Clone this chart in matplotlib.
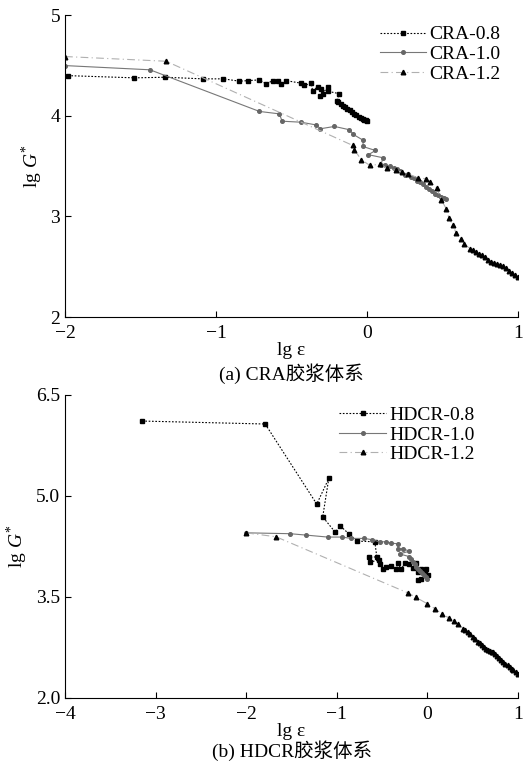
import matplotlib
matplotlib.use('Agg')
import matplotlib.pyplot as plt

plt.rcParams['font.family'] = ['Liberation Serif', 'Noto Sans CJK SC']
plt.rcParams['mathtext.fontset'] = 'custom'
plt.rcParams['mathtext.rm'] = 'Liberation Serif'
plt.rcParams['mathtext.it'] = 'Liberation Serif:italic'

# (a) CRA 胶浆体系
cra08_x = [-1.98, -1.54, -1.335, -1.088, -0.951, -0.845, -0.79, -0.712, -0.668, -0.624, -0.59,
           -0.569, -0.535, -0.436, -0.414, -0.37, -0.359, -0.326, -0.304, -0.293, -0.31, -0.26,
           -0.26, -0.182, -0.20, -0.19, -0.175, -0.16, -0.145, -0.13, -0.115, -0.10, -0.085,
           -0.07, -0.055, -0.04, -0.028, -0.017, -0.008, 0.0]
cra08_y = [4.40, 4.378, 4.384, 4.368, 4.368, 4.345, 4.35, 4.358, 4.318, 4.35, 4.345,
           4.318, 4.35, 4.325, 4.302, 4.325, 4.245, 4.292, 4.269, 4.22, 4.193, 4.285,
           4.245, 4.22, 4.15, 4.14, 4.12, 4.103, 4.085, 4.07, 4.054, 4.037, 4.02,
           4.004, 3.99, 3.978, 3.97, 3.962, 3.956, 3.952]

cra10_x = [-2.0, -1.437, -0.712, -0.58, -0.562, -0.436, -0.337, -0.308, -0.215, -0.116, -0.09,
           -0.023, -0.028, 0.056, 0.01, 0.105, 0.094, 0.12, 0.15, 0.18, 0.20, 0.22, 0.25, 0.27,
           0.29, 0.31, 0.33, 0.35, 0.37, 0.39, 0.41, 0.43, 0.45, 0.47, 0.49, 0.51, 0.525]
cra10_y = [4.50, 4.458, 4.044, 4.02, 3.947, 3.937, 3.91, 3.872, 3.895, 3.862, 3.815,
           3.756, 3.696, 3.656, 3.614, 3.584, 3.515, 3.51, 3.497, 3.48, 3.47, 3.455, 3.41, 3.42,
           3.39, 3.38, 3.355, 3.34, 3.32, 3.29, 3.27, 3.25, 3.225, 3.21, 3.19, 3.18, 3.17]

cra12_x = [-2.0, -1.33, -0.094, -0.083, -0.038, 0.017, 0.088, 0.13, 0.193, 0.23, 0.27, 0.337,
           0.388, 0.419, 0.463, 0.492, 0.525, 0.542, 0.569, 0.591, 0.62, 0.646, 0.68, 0.70,
           0.72, 0.74, 0.76, 0.78, 0.80, 0.82, 0.84, 0.86, 0.88, 0.90, 0.92, 0.94, 0.96,
           0.98, 1.0]
cra12_y = [4.59, 4.543, 3.706, 3.663, 3.564, 3.51, 3.517, 3.48, 3.457, 3.44, 3.425, 3.385,
           3.375, 3.342, 3.282, 3.167, 3.077, 2.988, 2.912, 2.835, 2.78, 2.73, 2.68, 2.665,
           2.645, 2.63, 2.615, 2.595, 2.57, 2.55, 2.535, 2.525, 2.515, 2.505, 2.49, 2.46, 2.44,
           2.42, 2.40]

# (b) HDCR 胶浆体系
hd08_x = [-3.15, -1.79, -1.221, -1.088, -1.155, -1.018, -0.959, -0.86, -0.779, -0.58, -0.558,
          -0.64, -0.63, -0.536, -0.52, -0.49, -0.454, -0.40, -0.344, -0.326, -0.289, -0.25,
          -0.20, -0.16, -0.123, -0.105, -0.068, -0.03, -0.02, 0.005, -0.068, -0.105]
hd08_y = [6.113, 6.069, 4.88, 5.261, 4.69, 4.464, 4.553, 4.43, 4.33, 4.32, 4.097,
          4.087, 4.02, 4.047, 3.99, 3.91, 3.94, 3.96, 3.92, 4.007, 3.91, 4.0,
          3.995, 3.935, 4.005, 3.87, 3.92, 3.87, 3.92, 3.82, 3.77, 3.745]

hd10_x = [-2.0, -1.515, -1.338, -1.1, -0.944, -0.84, -0.694, -0.609, -0.528, -0.455, -0.40,
          -0.326, -0.326, -0.27, -0.197, -0.307, -0.20, -0.18, -0.16, -0.14, -0.12, -0.10,
          -0.08, -0.06, -0.04, -0.02, 0.0]
hd10_y = [4.453, 4.44, 4.419, 4.39, 4.39, 4.37, 4.37, 4.35, 4.32, 4.32, 4.30,
          4.29, 4.217, 4.217, 4.18, 4.14, 4.10, 4.06, 4.02, 3.99, 3.95, 3.91,
          3.88, 3.85, 3.82, 3.79, 3.76]

hd12_x = [-2.0, -1.67, -0.216, -0.123, -0.001, 0.09, 0.164, 0.237, 0.289, 0.337, 0.392, 0.42,
          0.447, 0.475, 0.50, 0.53, 0.558, 0.58, 0.60, 0.625, 0.65, 0.67, 0.69, 0.71, 0.724,
          0.75, 0.77, 0.79, 0.816, 0.84, 0.86, 0.885, 0.908, 0.93, 0.95, 0.975, 1.0]
hd12_y = [4.453, 4.394, 3.561, 3.493, 3.40, 3.32, 3.244, 3.19, 3.14, 3.106, 3.032, 3.01,
          2.98, 2.945, 2.91, 2.87, 2.833, 2.81, 2.79, 2.76, 2.734, 2.715, 2.70, 2.69, 2.684,
          2.65, 2.62, 2.59, 2.56, 2.53, 2.51, 2.485, 2.46, 2.435, 2.41, 2.385, 2.36]

fs = 14
fig = plt.figure(figsize=(5.23, 7.64), dpi=100)
ax1 = fig.add_axes([0.1243, 0.585, 0.866, 0.395])
ax2 = fig.add_axes([0.1243, 0.0864, 0.866, 0.3966])

def style(ax):
    for s in ['top', 'right']:
        ax.spines[s].set_visible(False)
    ax.tick_params(direction='in', length=4, labelsize=fs, width=0.8)
    ax.tick_params(axis='x', pad=6)

ax1.plot(cra08_x, cra08_y, ls=(0, (1.5, 1.5)), color='black', lw=0.8,
         marker='s', ms=2.8, mfc='black', mec='black', label='CRA-0.8')
ax1.plot(cra10_x, cra10_y, ls='-', color='#777777', lw=0.8,
         marker='o', ms=2.6, mfc='#666666', mec='#666666', label='CRA-1.0')
ax1.plot(cra12_x, cra12_y, ls=(0, (7, 3, 1, 3)), color='#b0b0b0', lw=0.8,
         marker='^', ms=3.3, mfc='black', mec='black', label='CRA-1.2')
ax1.set_xlim(-2, 1)
ax1.set_ylim(2, 5)
ax1.set_xticks([-2, -1, 0, 1])
ax1.set_yticks([2, 3, 4, 5])
style(ax1)
ax1.set_xlabel('lg ε', fontsize=fs, labelpad=0)
ax1.set_ylabel(r'lg $\mathit{G}^{*}$', fontsize=fs)
ax1.legend(loc='upper left', bbox_to_anchor=(0.695, 0.965), frameon=False, fontsize=fs,
           borderpad=0, borderaxespad=0, handlelength=2.4, handletextpad=0.15, labelspacing=0.1)

ax2.plot(hd08_x, hd08_y, ls=(0, (1.5, 1.5)), color='black', lw=0.8,
         marker='s', ms=2.8, mfc='black', mec='black', label='HDCR-0.8')
ax2.plot(hd10_x, hd10_y, ls='-', color='#777777', lw=0.8,
         marker='o', ms=2.6, mfc='#666666', mec='#666666', label='HDCR-1.0')
ax2.plot(hd12_x, hd12_y, ls=(0, (7, 3, 1, 3)), color='#b0b0b0', lw=0.8,
         marker='^', ms=3.3, mfc='black', mec='black', label='HDCR-1.2')
ax2.set_xlim(-4, 1)
ax2.set_ylim(2.0, 6.5)
ax2.set_xticks([-4, -3, -2, -1, 0, 1])
ax2.set_yticks([2.0, 3.5, 5.0, 6.5])
ax2.set_yticklabels(['2.0', '3.5', '5.0', '6.5'])
style(ax2)
ax2.set_xlabel('lg ε', fontsize=fs, labelpad=0)
ax2.set_ylabel(r'lg $\mathit{G}^{*}$', fontsize=fs)
ax2.legend(loc='upper left', bbox_to_anchor=(0.606, 0.962), frameon=False, fontsize=fs,
           borderpad=0, borderaxespad=0, handlelength=2.4, handletextpad=0.15, labelspacing=0.1)

fig.text(0.558, 1 - 374 / 764, '(a) CRA胶浆体系', ha='center', va='center', fontsize=fs)
fig.text(0.558, 1 - 751 / 764, '(b) HDCR胶浆体系', ha='center', va='center', fontsize=fs)

fig.savefig('out.png', dpi=100)
